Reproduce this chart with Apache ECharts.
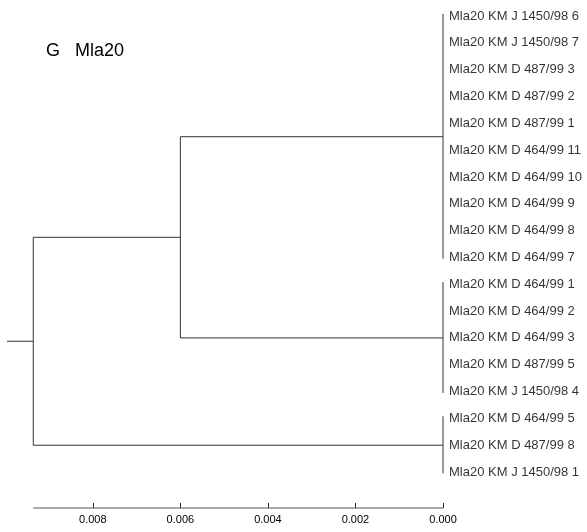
<!DOCTYPE html>
<html>
<head>
<meta charset="utf-8">
<script src="https://cdn.jsdelivr.net/npm/echarts@6/dist/echarts.min.js"></script>
<style>
html,body{margin:0;padding:0;background:#fff;}
#chart{width:587px;height:532px;}
</style>
</head>
<body>
<div id="chart"></div>
<script>
// Leaf labels (top to bottom)
const leafLabels = [
  'Mla20 KM J 1450/98 6',
  'Mla20 KM J 1450/98 7',
  'Mla20 KM D 487/99 3',
  'Mla20 KM D 487/99 2',
  'Mla20 KM D 487/99 1',
  'Mla20 KM D 464/99 11',
  'Mla20 KM D 464/99 10',
  'Mla20 KM D 464/99 9',
  'Mla20 KM D 464/99 8',
  'Mla20 KM D 464/99 7',
  'Mla20 KM D 464/99 1',
  'Mla20 KM D 464/99 2',
  'Mla20 KM D 464/99 3',
  'Mla20 KM D 487/99 5',
  'Mla20 KM J 1450/98 4',
  'Mla20 KM D 464/99 5',
  'Mla20 KM D 487/99 8',
  'Mla20 KM J 1450/98 1'
];
// Leaf clusters (sizes, in order) and their node heights (distance)
const clusterSizes = [10, 5, 3];
const clusterHeights = [0, 0, 0];
// Internal node heights
const nodeBHeight = 0.006;      // joins cluster 1 and cluster 2
const rootHeight = 0.00936;     // joins node B and cluster 3
const rootStub = 0.0006;        // root branch drawn to the left
// Axis ticks
const tickValues = [0, 0.002, 0.004, 0.006, 0.008];
const titleText = 'G   Mla20';

const yMax = 18.34;
const xMax = rootHeight + rootStub;

// Build cluster info
const clusters = [];
let start = 0;
clusterSizes.forEach((n, k) => {
  clusters.push({ first: start, last: start + n - 1, mid: start + (n - 1) / 2, h: clusterHeights[k] });
  start += n;
});
const nodeBY = (clusters[0].mid + clusters[1].mid) / 2;
const rootY = (nodeBY + clusters[2].mid) / 2;

const lineColor = '#333';
const series = [];
function seg(points, color) {
  series.push({
    type: 'line', data: points, symbol: 'none', silent: true,
    lineStyle: { color: color || lineColor, width: 1 }, clip: false, animation: false
  });
}
// cluster verticals
clusters.forEach(c => seg([[c.h, c.first - 0.08], [c.h, c.last + 0.05]]));
// node B elbow
seg([[clusters[0].h, clusters[0].mid], [nodeBHeight, clusters[0].mid], [nodeBHeight, clusters[1].mid], [clusters[1].h, clusters[1].mid]]);
// root elbow
seg([[nodeBHeight, nodeBY], [rootHeight, nodeBY], [rootHeight, clusters[2].mid], [clusters[2].h, clusters[2].mid]]);
// root stub
seg([[rootHeight, rootY], [rootHeight + rootStub, rootY]]);
// scale bar baseline (from 0 to the root)
seg([[0, yMax], [rootHeight, yMax]], '#555');

// leaf labels
series.push({
  type: 'scatter', symbolSize: 0, silent: true, animation: false,
  data: leafLabels.map((name, i) => ({ name: name, value: [0, i] })),
  label: {
    show: true, position: 'right', distance: 6,
    formatter: p => p.name,
    fontFamily: 'Liberation Sans, Arial, sans-serif', fontSize: 13, color: '#000'
  }
});

const chart = echarts.init(document.getElementById('chart'), null, { renderer: 'canvas' });
chart.setOption({
  animation: false,
  backgroundColor: '#fff',
  title: {
    text: titleText, left: 41, top: 37,
    textStyle: { fontFamily: 'Liberation Sans, Arial, sans-serif', fontSize: 18, fontWeight: 'normal', color: '#000' }
  },
  grid: { left: 7, right: 144, top: 16, bottom: 24, containLabel: false },
  xAxis: {
    type: 'value', inverse: true, min: 0, max: xMax, position: 'bottom',
    splitLine: { show: false },
    axisLine: { show: false, onZero: false },
    axisTick: { show: true, inside: true, length: 5, customValues: tickValues, lineStyle: { color: '#222' } },
    axisLabel: {
      customValues: tickValues, margin: 6,
      formatter: v => v.toFixed(3),
      fontFamily: 'Liberation Sans, Arial, sans-serif', fontSize: 11, color: '#000'
    }
  },
  yAxis: {
    type: 'value', inverse: true, min: 0, max: yMax, show: false
  },
  series: series
});
</script>
</body>
</html>
